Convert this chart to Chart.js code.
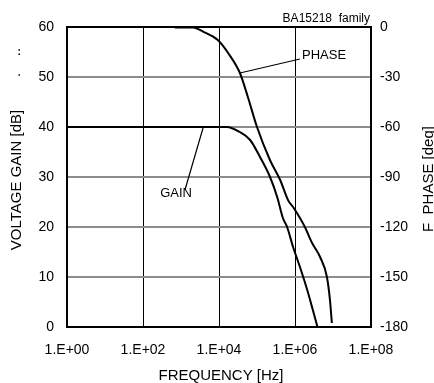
<!DOCTYPE html>
<html lang="en">
<head>
    <meta charset="UTF-8">
    <title>BA15218 gain / phase</title>
    <style>
        body{
            margin: 0;
            overflow: hidden;
            background: #fff;
        }
    </style>
</head>
<body>
<canvas id="c" width="434" height="383"></canvas>
<script src="https://cdn.jsdelivr.net/npm/chart.js@4"></script>
<script>
    // values
    const xTicks = [1, 1e2, 1e4, 1e6, 1e8];

    const gainFreq = [1, 16000, 35000, 66000, 120000, 220000, 340000, 480000, 620000, 890000, 1350000, 2100000, 2950000, 4100000];
    const gainDb   = [40, 40, 39, 37.4, 34, 30, 26, 21.8, 20, 16, 12, 7.4, 3.4, -0.6];

    const phaseFreq = [690, 2100, 3800, 9300, 17400, 35500, 57500, 100000, 219000, 407000, 661000, 891000, 1350000, 1820000, 2820000, 4570000, 6920000, 8320000, 9330000];
    const phaseDeg  = [-0.3, -0.3, -2.8, -7.8, -15.6, -27.6, -42, -60, -79.8, -91.8, -104, -108, -114.6, -120, -129.6, -138, -150, -163.8, -177.6];

    // leader lines + labels (frequency, value)
    const gainLeader  = [[3800, 39.8], [1270, 27.4]];
    const gainLabel   = [740, 26.8];
    const phaseLeader = [[35500, -27.6], [1350000, -19.2]];
    const phaseLabel  = [1530000, -16.8];

    const FONT = "'Liberation Sans', Arial, sans-serif";
    Chart.defaults.font.family = FONT;
    Chart.defaults.color = '#000';

    function pts(xs, ys){
        return xs.map((x, i) => ({x: x, y: ys[i]}));
    }
    function expLabel(v){
        const e = Math.round(Math.log10(v));
        return '1.E+' + String(e).padStart(2, '0');
    }

    const extras = {
        id: 'extras',
        afterDatasetsDraw(chart){
            const ctx = chart.ctx;
            const a = chart.chartArea;
            const sx = chart.scales.x, sg = chart.scales.yGain, sp = chart.scales.yPhase;
            ctx.save();

            // frame
            ctx.strokeStyle = '#000';
            ctx.lineWidth = 2;
            ctx.strokeRect(a.left, a.top, a.right - a.left, a.bottom - a.top);

            // leaders
            ctx.lineWidth = 1.2;
            ctx.beginPath();
            ctx.moveTo(sx.getPixelForValue(gainLeader[0][0]), sg.getPixelForValue(gainLeader[0][1]));
            ctx.lineTo(sx.getPixelForValue(gainLeader[1][0]), sg.getPixelForValue(gainLeader[1][1]));
            ctx.moveTo(sx.getPixelForValue(phaseLeader[0][0]), sp.getPixelForValue(phaseLeader[0][1]));
            ctx.lineTo(sx.getPixelForValue(phaseLeader[1][0]), sp.getPixelForValue(phaseLeader[1][1]));
            ctx.stroke();

            ctx.fillStyle = '#000';
            ctx.font = '13px ' + FONT;
            ctx.textBaseline = 'middle';
            ctx.textAlign = 'center';
            ctx.fillText('GAIN', sx.getPixelForValue(gainLabel[0]), sg.getPixelForValue(gainLabel[1]));
            ctx.textAlign = 'left';
            ctx.fillText('PHASE', sx.getPixelForValue(phaseLabel[0]), sp.getPixelForValue(phaseLabel[1]));

            // top-right caption
            ctx.font = '12px ' + FONT;
            ctx.textAlign = 'right';
            ctx.textBaseline = 'alphabetic';
            ctx.fillText('BA15218  family', a.right - 1, 21.5);

            // axis titles
            ctx.font = '15px ' + FONT;
            ctx.textAlign = 'center';
            ctx.fillText('FREQUENCY [Hz]', (a.left + a.right) / 2 + 2, 380);

            ctx.save();
            ctx.translate(21, 180);
            ctx.rotate(-Math.PI / 2);
            ctx.fillText('VOLTAGE GAIN [dB]', 0, 0);
            ctx.restore();

            ctx.save();
            ctx.translate(20, 77);
            ctx.rotate(-Math.PI / 2);
            ctx.textAlign = 'left';
            ctx.fillText('.    ..', 0, 0);
            ctx.restore();

            ctx.save();
            ctx.translate(433, 179);
            ctx.rotate(-Math.PI / 2);
            ctx.fillText('F  PHASE [deg]', 0, 0);
            ctx.restore();

            ctx.restore();
        }
    };

    new Chart(document.getElementById('c'), {
        type: 'line',
        data: {
            datasets: [{
                label: 'GAIN',
                data: pts(gainFreq, gainDb),
                yAxisID: 'yGain',
                borderColor: '#000',
                borderWidth: 2,
                pointRadius: 0,
                cubicInterpolationMode: 'monotone'
            }, {
                label: 'PHASE',
                data: pts(phaseFreq, phaseDeg),
                yAxisID: 'yPhase',
                borderColor: '#000',
                borderWidth: 2,
                pointRadius: 0,
                cubicInterpolationMode: 'monotone'
            }]
        },
        options: {
            responsive: false,
            animation: false,
            layout: {padding: {top: 27, left: 0, right: 0, bottom: 0}},
            plugins: {
                legend: {display: false},
                tooltip: {enabled: false}
            },
            scales: {
                x: {
                    type: 'logarithmic',
                    min: 1,
                    max: 1e8,
                    afterBuildTicks: (s) => { s.ticks = xTicks.map(v => ({value: v})); },
                    afterFit: (s) => { s.height = 56; },
                    ticks: {
                        callback: (v) => expLabel(v),
                        font: {size: 14},
                        padding: 15,
                        maxRotation: 0,
                        autoSkip: false
                    },
                    grid: {color: '#000', lineWidth: 1, drawTicks: false},
                    border: {display: false}
                },
                yGain: {
                    position: 'left',
                    min: 0,
                    max: 60,
                    afterFit: (s) => { s.width = 67; },
                    ticks: {stepSize: 10, font: {size: 14}, padding: 13},
                    grid: {color: '#8c8c8c', lineWidth: 2, drawTicks: false},
                    border: {display: false}
                },
                yPhase: {
                    position: 'right',
                    min: -180,
                    max: 0,
                    afterFit: (s) => { s.width = 63; },
                    ticks: {stepSize: 30, font: {size: 14}, padding: 9},
                    grid: {display: false, drawTicks: false},
                    border: {display: false}
                }
            }
        },
        plugins: [extras]
    });
</script>
</body>
</html>
